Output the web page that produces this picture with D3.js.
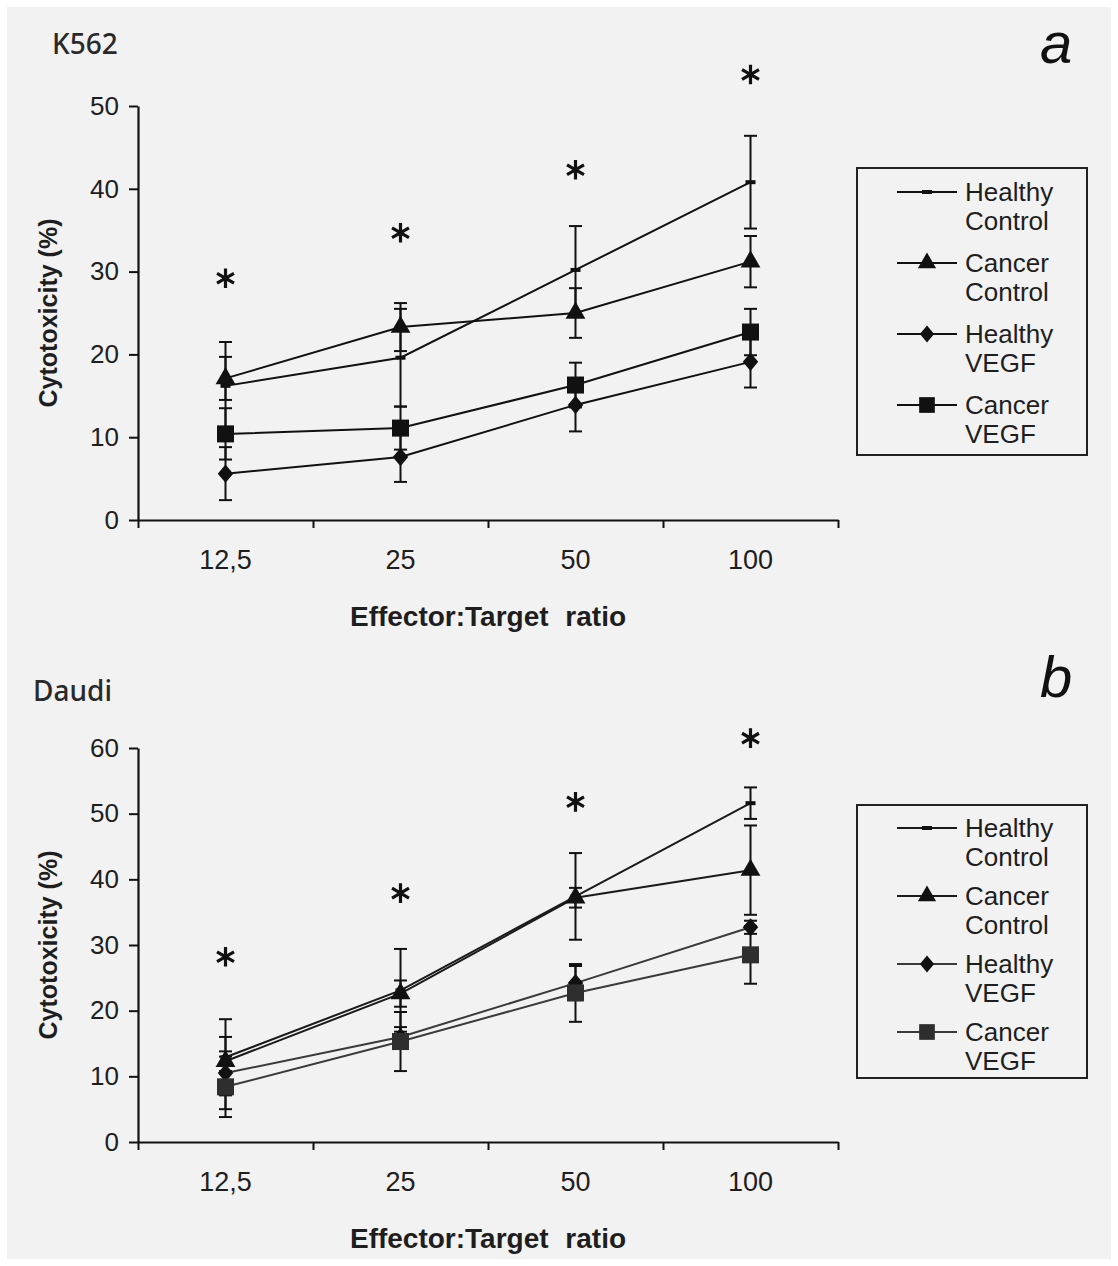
<!DOCTYPE html>
<html>
<head>
<meta charset="utf-8">
<script src="https://cdn.jsdelivr.net/npm/d3@7"></script>
<style>
  body { margin: 0; background: #ffffff; }
  svg { display: block; }
</style>
</head>
<body>
<div id="chart"></div>
<script>
// categories and series
const categories = ['12,5', '25', '50', '100'];
const seriesNames = ['Healthy Control', 'Cancer Control', 'Healthy VEGF', 'Cancer VEGF'];

// K562 panel (a)
const k562HealthyControl = [16.2, 19.6, 30.2, 40.8];
const k562HealthyControlErr = [5.3, 5.9, 5.3, 5.6];
const k562CancerControl = [17.1, 23.3, 25.0, 31.2];
const k562CancerControlErr = [2.6, 2.9, 3.0, 3.1];
const k562HealthyVEGF = [5.6, 7.6, 13.9, 19.1];
const k562HealthyVEGFErr = [3.2, 3.0, 3.2, 3.1];
const k562CancerVEGF = [10.4, 11.1, 16.3, 22.7];
const k562CancerVEGFErr = [3.1, 2.6, 2.7, 2.8];
const k562Stars = [29.2, 34.7, 42.3, 53.8];
const k562Ticks = [0, 10, 20, 30, 40, 50];

// Daudi panel (b)
const daudiHealthyControl = [12.9, 23.1, 37.4, 51.6];
const daudiHealthyControlErr = [5.8, 6.3, 6.6, 2.4];
const daudiCancerControl = [12.3, 22.6, 37.2, 41.4];
const daudiCancerControlErr = [1.5, 2.0, 1.5, 6.8];
const daudiHealthyVEGF = [10.5, 16.0, 24.2, 32.7];
const daudiHealthyVEGFErr = [5.5, 1.5, 2.6, 1.0];
const daudiCancerVEGF = [8.4, 15.3, 22.7, 28.5];
const daudiCancerVEGFErr = [4.6, 4.5, 4.4, 4.4];
const daudiStars = [28.2, 37.9, 51.8, 61.5];
const daudiTicks = [0, 10, 20, 30, 40, 50, 60];

const width = 1118;
const height = 1266;
const tickFont = 'Liberation Sans, Arial, sans-serif';

const svg = d3.select('#chart').append('svg')
  .attr('width', width)
  .attr('height', height);

svg.append('rect')
  .attr('x', 7).attr('y', 7)
  .attr('width', width - 14).attr('height', height - 14)
  .attr('fill', '#f2f2f2');

// diamond marker, a bit wider than d3's own
const diamondType = {
  draw(ctx, size) {
    const h = Math.sqrt(size) * 0.6;
    const w = h * 0.85;
    ctx.moveTo(0, -h);
    ctx.lineTo(w, 0);
    ctx.lineTo(0, h);
    ctx.lineTo(-w, 0);
    ctx.closePath();
  }
};
const dashType = {
  draw(ctx, size) {
    ctx.rect(-5, -2, 10, 4);
  }
};
const markerTypes = [dashType, d3.symbolTriangle, diamondType, d3.symbolSquare];
const markerSizes = [40, 170, 230, 290];

function drawPanel(p) {
  const g = svg.append('g');

  const x = d3.scaleBand().domain(categories).range([p.left, p.right]);
  const xEdges = d3.scaleLinear().domain([0, categories.length]).range([p.left, p.right]);
  const y = d3.scaleLinear().domain([0, d3.max(p.ticks)]).range([p.bottom, p.top]);

  // y axis
  const yAxis = g.append('g')
    .attr('transform', `translate(${p.left},0)`)
    .call(d3.axisLeft(y).tickValues(p.ticks).tickSize(9).tickSizeOuter(0).tickPadding(10));
  yAxis.select('.domain').attr('stroke', '#111').attr('stroke-width', 2.2);
  yAxis.selectAll('.tick line').attr('stroke', '#111').attr('stroke-width', 2);
  yAxis.selectAll('.tick text')
    .style('font-family', tickFont).style('font-size', '26px').attr('fill', '#1e1e1e');

  // x axis: boundary ticks
  const xAxis = g.append('g')
    .attr('transform', `translate(0,${p.bottom})`)
    .call(d3.axisBottom(xEdges).ticks(categories.length).tickSize(8).tickSizeOuter(0).tickFormat(''));
  xAxis.select('.domain').attr('stroke', '#111').attr('stroke-width', 2.2);
  xAxis.selectAll('.tick line').attr('stroke', '#111').attr('stroke-width', 2);

  // x labels at category centres
  const xLab = g.append('g')
    .attr('transform', `translate(0,${p.bottom})`)
    .call(d3.axisBottom(x).tickSize(0).tickPadding(30));
  xLab.select('.domain').remove();
  xLab.selectAll('.tick text')
    .style('font-family', tickFont).style('font-size', '27px').attr('fill', '#1e1e1e');

  // axis titles
  g.append('text')
    .attr('x', (p.left + p.right) / 2)
    .attr('y', p.bottom + 106)
    .attr('text-anchor', 'middle')
    .style('font-family', tickFont).style('font-size', '28px').style('font-weight', 'bold')
    .style('word-spacing', '9px')
    .attr('fill', '#1e1e1e')
    .text('Effector:Target ratio');

  g.append('text')
    .attr('transform', `translate(48,${(p.top + p.bottom) / 2}) rotate(-90)`)
    .attr('text-anchor', 'middle')
    .attr('dominant-baseline', 'central')
    .style('font-family', tickFont).style('font-size', '25px').style('font-weight', 'bold')
    .attr('fill', '#1e1e1e')
    .text('Cytotoxicity (%)');

  // cell line name and panel letter
  g.append('text')
    .attr('x', p.nameX).attr('y', p.nameY)
    .style('font-family', 'Noto Sans, sans-serif').style('font-size', '28px')
    .style('font-weight', 500)
    .attr('fill', '#2a2a2a')
    .text(p.name);
  g.append('text')
    .attr('x', 1040).attr('y', p.letterY)
    .style('font-family', tickFont).style('font-size', '58px').style('font-style', 'italic')
    .attr('fill', '#111')
    .text(p.letter);

  const cx = c => x(c) + x.bandwidth() / 2;
  const line = d3.line().x(d => cx(d.cat)).y(d => y(d.v));

  const series = p.series.map((s, i) => ({
    name: seriesNames[i],
    idx: i,
    color: p.colors[i],
    pts: categories.map((c, j) => ({ cat: c, v: s.values[j], e: s.err[j] }))
  }));

  // lines
  g.selectAll('.series-line')
    .data(series)
    .enter().append('path')
    .attr('class', 'series-line')
    .attr('d', s => line(s.pts))
    .attr('fill', 'none')
    .attr('stroke', s => s.color)
    .attr('stroke-width', 2);

  // error bars
  const capW = 6.5;
  series.forEach(s => {
    const eb = g.append('g').selectAll('g')
      .data(s.pts)
      .enter().append('g')
      .attr('stroke', '#111')
      .attr('stroke-width', 2);
    eb.append('line')
      .attr('x1', d => cx(d.cat)).attr('x2', d => cx(d.cat))
      .attr('y1', d => y(d.v - d.e)).attr('y2', d => y(d.v + d.e));
    eb.append('line')
      .attr('x1', d => cx(d.cat) - capW).attr('x2', d => cx(d.cat) + capW)
      .attr('y1', d => y(d.v + d.e)).attr('y2', d => y(d.v + d.e));
    eb.append('line')
      .attr('x1', d => cx(d.cat) - capW).attr('x2', d => cx(d.cat) + capW)
      .attr('y1', d => y(d.v - d.e)).attr('y2', d => y(d.v - d.e));
  });

  // markers
  series.forEach(s => {
    g.append('g').selectAll('path')
      .data(s.pts)
      .enter().append('path')
      .attr('transform', d => `translate(${cx(d.cat)},${y(d.v)})`)
      .attr('d', d3.symbol().type(markerTypes[s.idx]).size(markerSizes[s.idx]))
      .attr('fill', p.markerFill[s.idx]);
  });

  // significance stars
  g.append('g').selectAll('path')
    .data(categories.map((c, j) => ({ cat: c, v: p.stars[j] })))
    .enter().append('path')
    .attr('transform', d => `translate(${cx(d.cat)},${y(d.v)})`)
    .attr('d', d3.symbol().type(d3.symbolAsterisk).size(270))
    .attr('fill', 'none')
    .attr('stroke', '#111')
    .attr('stroke-width', 3.2);

  // legend
  const lg = g.append('g');
  lg.append('rect')
    .attr('x', 857).attr('y', p.legendTop)
    .attr('width', 230).attr('height', p.legendH)
    .attr('fill', 'none').attr('stroke', '#222').attr('stroke-width', 2);
  const item = lg.selectAll('.item')
    .data(series)
    .enter().append('g')
    .attr('class', 'item')
    .attr('transform', (s, i) => `translate(0,${p.legendFirst + i * p.legendStep})`);
  item.append('line')
    .attr('x1', 897).attr('x2', 957)
    .attr('stroke', s => s.color).attr('stroke-width', 2);
  item.append('path')
    .attr('transform', 'translate(927,0)')
    .attr('d', s => d3.symbol().type(markerTypes[s.idx]).size(markerSizes[s.idx] * 0.85)())
    .attr('fill', s => p.markerFill[s.idx]);
  const lt = item.append('text')
    .attr('x', 965)
    .style('font-family', tickFont).style('font-size', '26px')
    .attr('fill', '#1e1e1e');
  lt.append('tspan').attr('x', 965).attr('y', 9).text(s => s.name.split(' ')[0]);
  lt.append('tspan').attr('x', 965).attr('y', 38).text(s => s.name.split(' ')[1]);
}

drawPanel({
  left: 138, right: 838, top: 106, bottom: 520,
  ticks: k562Ticks,
  stars: k562Stars,
  name: 'K562', nameX: 52, nameY: 54,
  letter: 'a', letterY: 63,
  colors: ['#111', '#111', '#111', '#111'],
  markerFill: ['#111', '#111', '#111', '#111'],
  series: [
    { values: k562HealthyControl, err: k562HealthyControlErr },
    { values: k562CancerControl, err: k562CancerControlErr },
    { values: k562HealthyVEGF, err: k562HealthyVEGFErr },
    { values: k562CancerVEGF, err: k562CancerVEGFErr }
  ],
  legendTop: 168, legendH: 287, legendFirst: 192, legendStep: 71
});

drawPanel({
  left: 138, right: 838, top: 748, bottom: 1142,
  ticks: daudiTicks,
  stars: daudiStars,
  name: 'Daudi', nameX: 33, nameY: 701,
  letter: 'b', letterY: 697,
  colors: ['#1a1a1a', '#1a1a1a', '#3a3a3a', '#3a3a3a'],
  markerFill: ['#111', '#111', '#111', '#2e2e2e'],
  series: [
    { values: daudiHealthyControl, err: daudiHealthyControlErr },
    { values: daudiCancerControl, err: daudiCancerControlErr },
    { values: daudiHealthyVEGF, err: daudiHealthyVEGFErr },
    { values: daudiCancerVEGF, err: daudiCancerVEGFErr }
  ],
  legendTop: 805, legendH: 273, legendFirst: 828, legendStep: 68
});
</script>
</body>
</html>
